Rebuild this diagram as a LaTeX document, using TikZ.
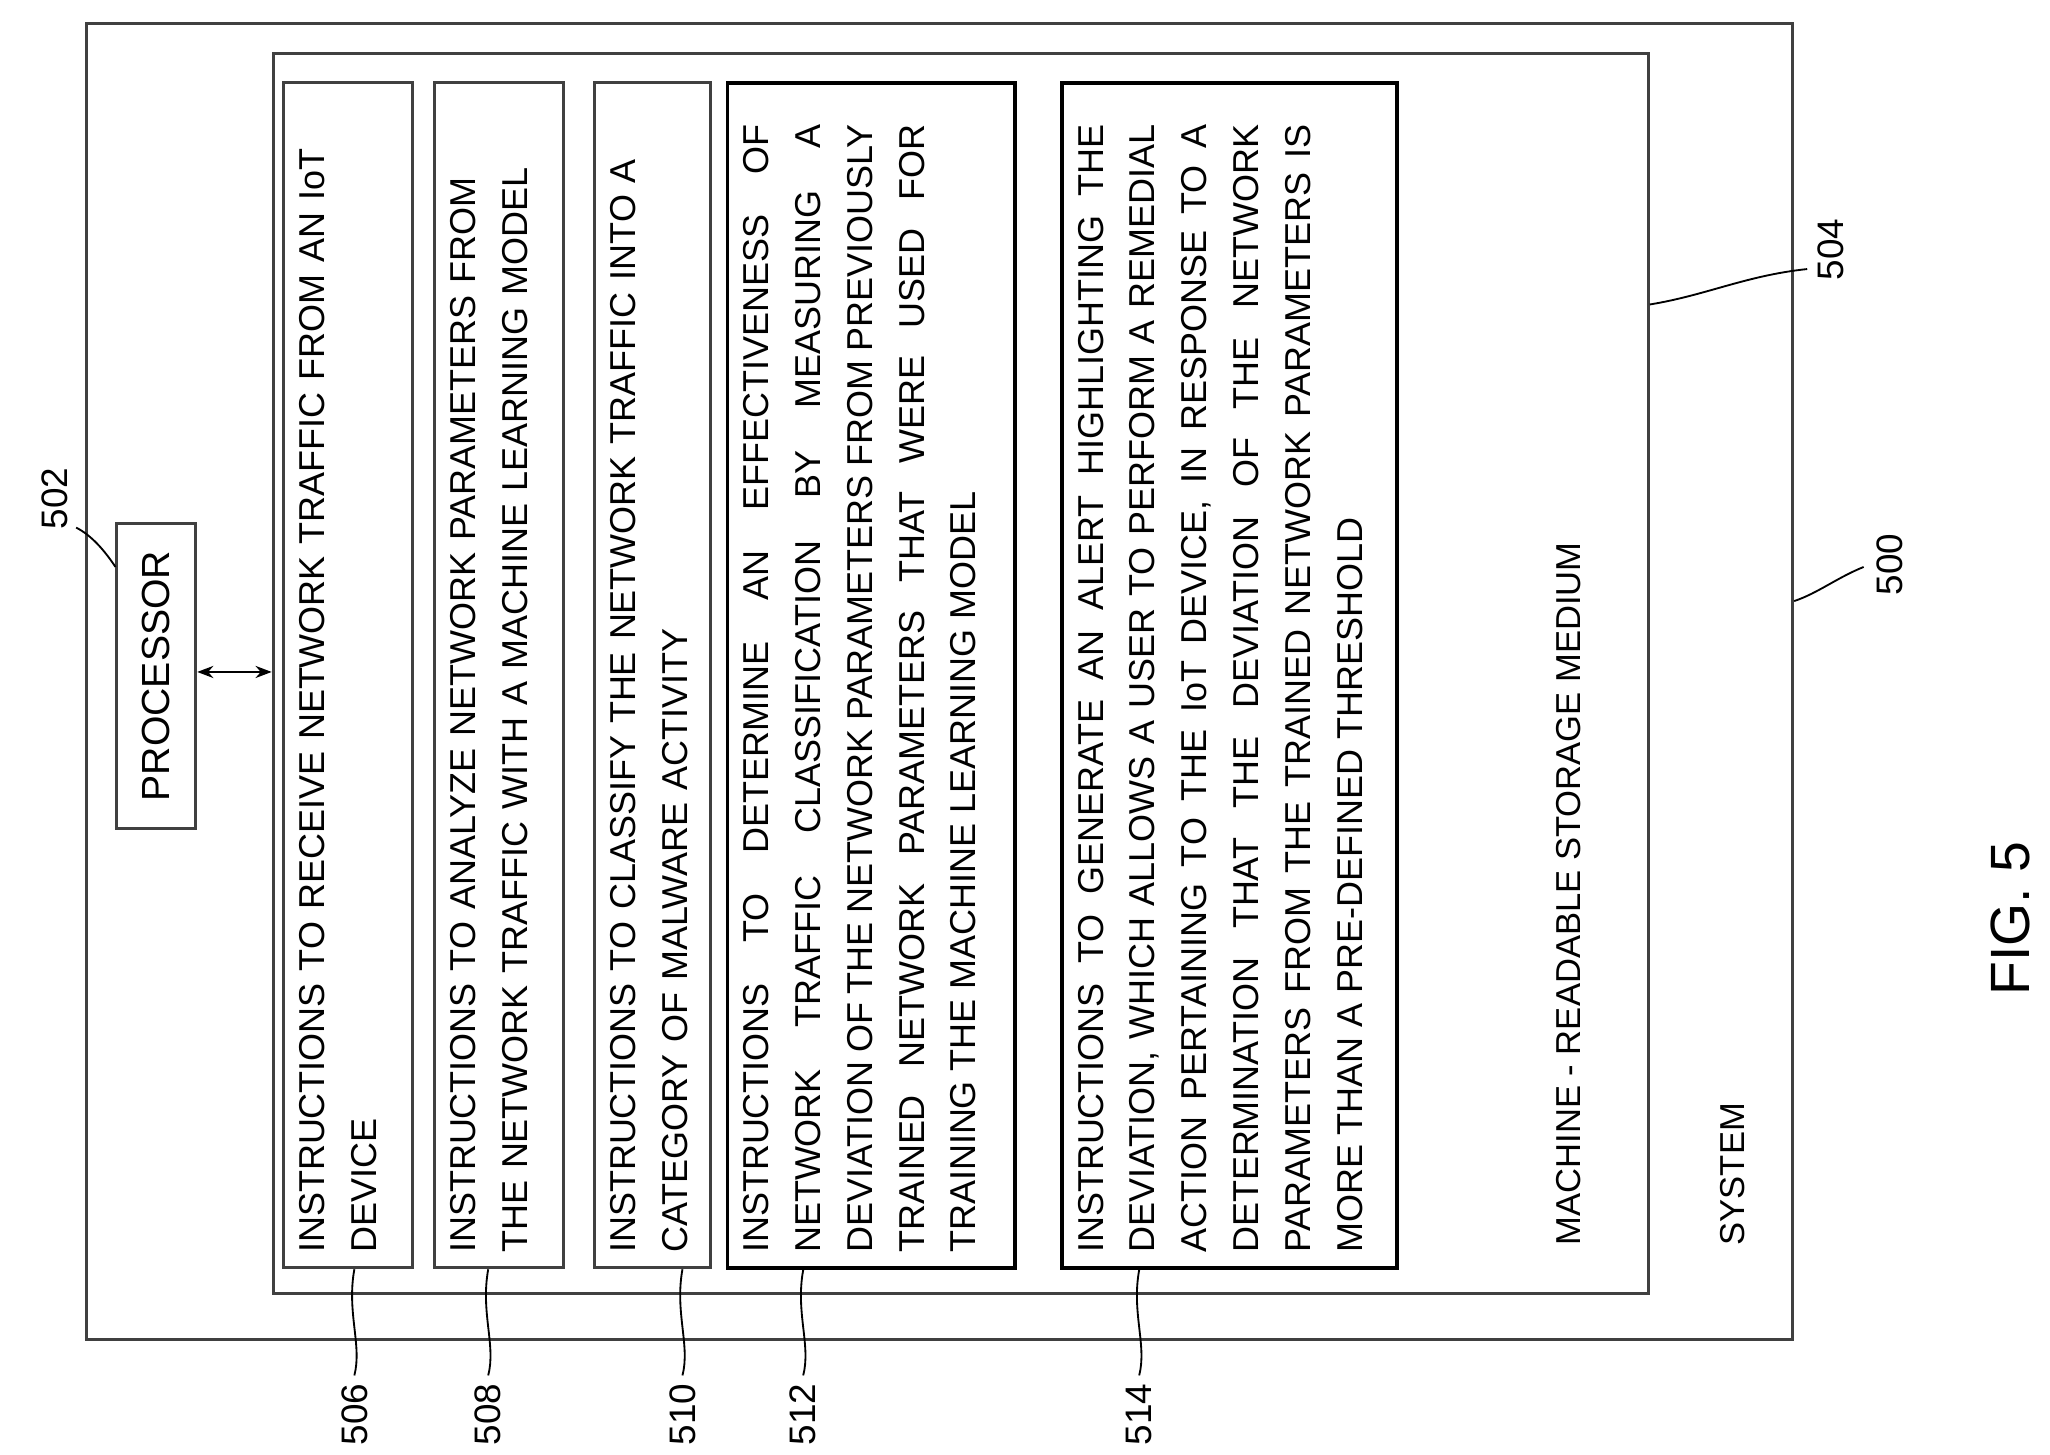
\documentclass[tikz,border=0pt]{standalone}
\usepackage{fontspec}
\setmainfont{Liberation Sans}
\usetikzlibrary{arrows.meta}
\newcommand{\jl}[1]{{\parfillskip=0pt\relax #1\par}}
\begin{document}
\begin{tikzpicture}[x=0.02cm,y=-0.02cm,
  bx/.style={draw=black!75,line width=1.3pt},
  sb/.style={draw=black,line width=1.6pt},
  tx/.style={rotate=90,anchor=north west,inner sep=0pt,align=left,font=\fontsize{15.6}{22.5}\selectfont,text width=17.2cm},
  tj/.style={tx,align=justify},
  lab/.style={rotate=90,font=\fontsize{16}{18}\selectfont},
  ld/.style={draw=black,line width=0.8pt}]
\useasboundingbox (0,0) rectangle (1562,1108);
\node[bx,minimum width=26cm,minimum height=20.06cm,anchor=north west] (sys) at (65,17) {};
\node[bx,minimum width=20.96cm,minimum height=18.9cm,anchor=north west] (med) at (207,40) {};
\node[bx,minimum width=1.2cm,minimum height=4.64cm,anchor=north west] (proc) at (88,398) {};
\node[rotate=90,font=\fontsize{17}{20}\selectfont] at (proc.center) {PROCESSOR};
\coordinate (medl) at (207,512);
\draw[{Stealth[length=7pt]}-{Stealth[length=7pt]},line width=1pt] (proc.east|-medl) -- (medl);
% boxes
\node[bx,minimum width=1.96cm,minimum height=18.06cm,anchor=north west] (b506) at (215,62) {};
\node[bx,minimum width=1.96cm,minimum height=18.06cm,anchor=north west] (b508) at (330,62) {};
\node[bx,minimum width=1.76cm,minimum height=18.06cm,anchor=north west] (b510) at (452,62) {};
\node[sb,minimum width=4.38cm,minimum height=18.06cm,anchor=north west] (b512) at (553,62) {};
\node[sb,minimum width=5.1cm,minimum height=18.06cm,anchor=north west] (b514) at (808,62) {};
\node[tx] (t506) at (228,955) {INSTRUCTIONS TO RECEIVE NETWORK TRAFFIC FROM AN IoT\\DEVICE};
\node[tx] (t508) at (343,955) {INSTRUCTIONS TO ANALYZE NETWORK PARAMETERS FROM\\THE NETWORK TRAFFIC WITH A MACHINE LEARNING MODEL};
\node[tx] (t510) at (465,955) {INSTRUCTIONS TO CLASSIFY THE NETWORK TRAFFIC INTO A\\CATEGORY OF MALWARE ACTIVITY};
\node[tj] (t512) at (566,955) {\jl{INSTRUCTIONS TO DETERMINE AN EFFECTIVENESS OF}\jl{NETWORK TRAFFIC CLASSIFICATION BY MEASURING A}\jl{DEVIATION OF THE NETWORK PARAMETERS FROM PREVIOUSLY}\jl{TRAINED NETWORK PARAMETERS THAT WERE USED FOR}TRAINING THE MACHINE LEARNING MODEL};
\node[tj] (t514) at (821,955) {\jl{INSTRUCTIONS TO GENERATE AN ALERT HIGHLIGHTING THE}\jl{DEVIATION, WHICH ALLOWS A USER TO PERFORM A REMEDIAL}\jl{ACTION PERTAINING TO THE IoT DEVICE, IN RESPONSE TO A}\jl{DETERMINATION THAT THE DEVIATION OF THE NETWORK}\jl{PARAMETERS FROM THE TRAINED NETWORK PARAMETERS IS}MORE THAN A PRE-DEFINED THRESHOLD};
\node[rotate=90,anchor=west,font=\fontsize{15}{16}\selectfont] (mtx) at (1195,955) {MACHINE - READABLE STORAGE MEDIUM};
\node[rotate=90,anchor=west,font=\fontsize{15}{16}\selectfont] (stx) at (1320,955) {SYSTEM};
% labels
\foreach \n/\x in {506/270,508/372,510/520,512/612,514/868}{
  \node[lab,anchor=east] (l\n) at (\x,1048) {\n};
  \draw[ld] (l\n.east) .. controls (\x+6,1025) and (\x-6,1000) .. (b\n.south-|l\n.east);
}
\node[lab] (l502) at (42,380) {502};
\draw[ld] (58,402) .. controls (70,408) and (80,420) .. (proc.north west|-0,432);
\node[lab] (l504) at (1395,190) {504};
\draw[ld] (1377,205) .. controls (1330,210) and (1300,225) .. (med.east|-0,232);
\node[lab] (l500) at (1440,430) {500};
\draw[ld] (1420,432) .. controls (1400,440) and (1385,452) .. (sys.east|-0,458);
\node[rotate=90,font=\fontsize{24}{26}\selectfont] (fig) at (1532,700) {FIG. 5};
\end{tikzpicture}
\end{document}
